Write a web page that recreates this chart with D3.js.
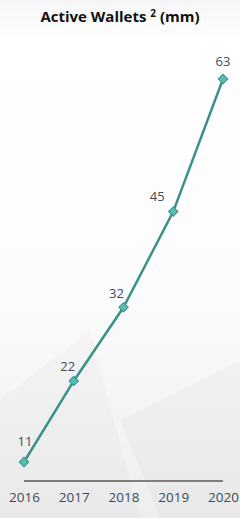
<!DOCTYPE html>
<html><head><meta charset="utf-8">
<script src="https://cdn.jsdelivr.net/npm/d3@7"></script>
<style>html,body{margin:0;padding:0;background:#fff;}svg{display:block;}</style>
</head><body>
<script>
const years = ["2016","2017","2018","2019","2020"];
const wallets = [11, 22, 32, 45, 63];
const title = "Active Wallets";
const W = 240, H = 518;
const svg = d3.select("body").append("svg").attr("width", W).attr("height", H);
const defs = svg.append("defs");
const g1 = defs.append("linearGradient").attr("id","bg").attr("x1",0).attr("y1",0).attr("x2",0).attr("y2",1);
g1.append("stop").attr("offset","0").attr("stop-color","#f6f6f6");
g1.append("stop").attr("offset","0.08").attr("stop-color","#ffffff");
g1.append("stop").attr("offset","0.55").attr("stop-color","#fcfcfc");
g1.append("stop").attr("offset","1").attr("stop-color","#eeeeee");
svg.append("rect").attr("width",W).attr("height",H).attr("fill","url(#bg)");
// faint decorative shapes
svg.append("path").attr("d","M0,400 L90,330 L140,518 L0,518Z").attr("fill","#000").attr("opacity",0.018);
svg.append("path").attr("d","M120,420 L240,360 L240,518 L160,518Z").attr("fill","#000").attr("opacity",0.022);

const x = d3.scalePoint().domain(years).range([24, 223]);
const y = d3.scaleLinear().domain([0, 63]).range([543, 79]);

// title
const t = svg.append("text").attr("x",120).attr("y",22).attr("text-anchor","middle")
  .attr("font-family","Open Sans").attr("font-weight",700).attr("font-size",15).attr("fill","#111");
t.append("tspan").text(title + " ");
t.append("tspan").attr("font-size",10).attr("dy",-5).text("2");
t.append("tspan").attr("dy",5).text(" (mm)");

// axis line
svg.append("line").attr("x1",x(years[0])).attr("x2",x(years[years.length-1]))
  .attr("y1",481).attr("y2",481).attr("stroke","#5a5a5a").attr("stroke-width",1.5);
const xAxis = d3.axisBottom(x).tickSize(0).tickPadding(0);
const ax = svg.append("g").attr("transform","translate(0,492)").call(xAxis);
ax.select(".domain").remove();
ax.selectAll("text").attr("font-family","Open Sans").attr("font-size",13.5).attr("fill","#3d4b5c").attr("dy","0.71em");

const pts = years.map((yr,i)=>({yr, v: wallets[i]}));
svg.append("path").datum(pts)
  .attr("d", d3.line().x(d=>x(d.yr)).y(d=>y(d.v)))
  .attr("fill","none").attr("stroke","#3a918a").attr("stroke-width",2.5);
svg.selectAll(".m").data(pts).enter().append("path")
  .attr("d", d3.symbol(d3.symbolSquare, 44)())
  .attr("transform", d=>`translate(${x(d.yr)},${y(d.v)}) rotate(45)`)
  .attr("fill","#55bdb4").attr("stroke","#3a918a").attr("stroke-width",1);
const offs = [[1,-21],[-6,-15],[-7,-14],[-16,-16],[0,-18]];
svg.selectAll(".lbl").data(pts).enter().append("text")
  .attr("x",(d,i)=>x(d.yr)+offs[i][0]).attr("y",(d,i)=>y(d.v)+offs[i][1]+5)
  .attr("text-anchor","middle").attr("font-family","Open Sans").attr("font-size",13)
  .attr("fill","#3d4b5c").text(d=>d.v);
</script>
</body></html>
